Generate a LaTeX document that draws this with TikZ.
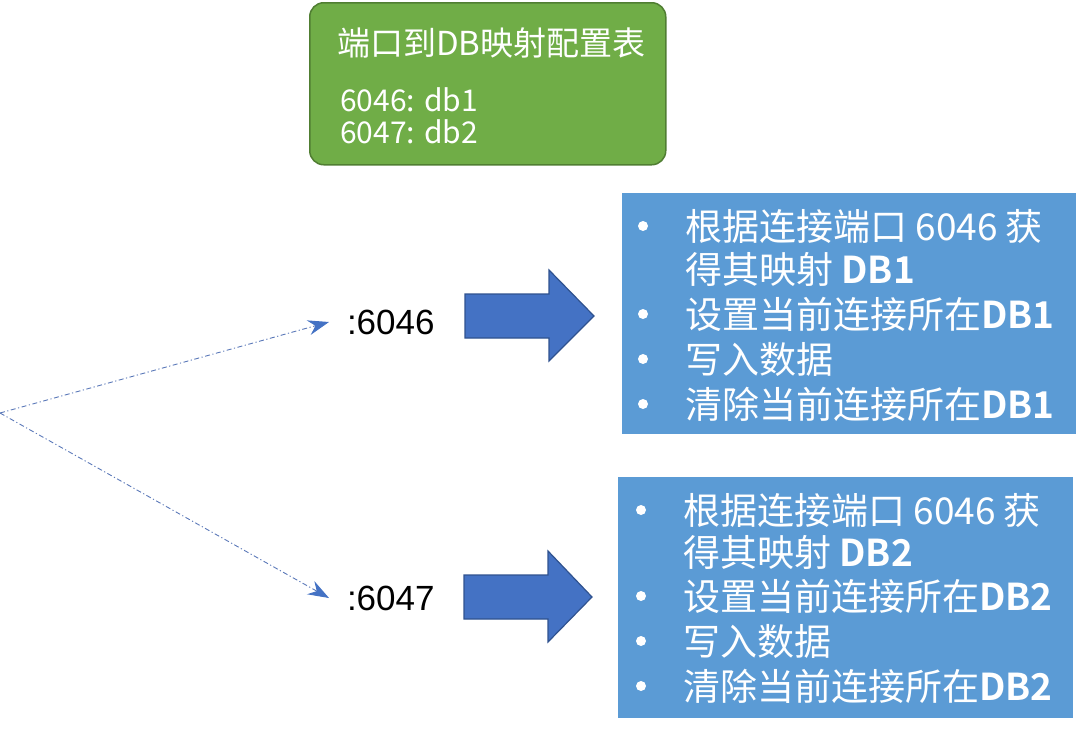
\documentclass[tikz,border=0pt]{standalone}
\usepackage{fontspec}
\setmainfont{Liberation Sans}
\newfontfamily\cjk{Noto Sans CJK SC}[BoldFont={Noto Sans CJK SC Bold}]
\usetikzlibrary{arrows.meta}
\definecolor{greenfill}{HTML}{70AD47}
\definecolor{greenline}{HTML}{507E32}
\definecolor{bluebox}{HTML}{5B9BD5}
\definecolor{arrowfill}{HTML}{4472C4}
\definecolor{arrowline}{HTML}{2F528F}
\definecolor{dashcol}{HTML}{5A78B8}
\tikzset{
  tablebox/.style={draw=greenline, line width=1.5pt, fill=greenfill, rounded corners=14pt, inner sep=0pt},
  infobox/.style={fill=bluebox, inner sep=0pt},
  bigarrow/.style={draw=arrowline, line width=1.2pt, fill=arrowfill, line join=miter},
  wtext/.style={text=white, inner sep=0pt, anchor=base west},
  btext/.style={wtext, font=\cjk\fontsize{37}{44}\selectfont},
  bullet/.style={circle, fill=white, inner sep=0pt, minimum size=10pt},
  gtext/.style={wtext, font=\cjk\fontsize{30}{34}\selectfont},
  port/.style={inner sep=0pt, outer sep=18pt, anchor=west, font=\fontsize{35}{40}\selectfont},
  flow/.style={draw=dashcol, line width=0.9pt, dash pattern=on 5pt off 2.5pt on 1.2pt off 2.5pt,
    -{Stealth[length=21pt, width=15pt, inset=7pt, fill=arrowfill, color=arrowfill]}}
}
\begin{document}
\begin{tikzpicture}[x=1pt, y=-1pt]
\useasboundingbox (0,0) rectangle (1078,731);

% config table
\node[tablebox, anchor=north west, minimum width=356pt, minimum height=162pt] (cfg) at (309,2) {};
\node[wtext, font=\cjk\fontsize{33}{36}\selectfont] (cfgtitle) at (337,55) {端口到DB映射配置表};
\node[gtext] (cfg1) at (340,111) {6046: db1};
\node[gtext] (cfg2) at (340,143) {6047: db2};

% blue info boxes
\node[infobox, anchor=north west, minimum width=454pt, minimum height=241pt] (box1) at (622,193) {};
\node[infobox, anchor=north west, minimum width=455pt, minimum height=241pt] (box2) at (618,477) {};

% box 1 lines
\node[bullet] (b1a) at (643,226) {};
\node[btext] (t1a) at (685,240) {根据连接端口 6046 获};
\node[btext] (t1b) at (685,283) {得其映射 \textbf{DB1}};
\node[bullet] (b1c) at (643,314) {};
\node[btext] (t1c) at (685,328) {设置当前连接所在\textbf{DB1}};
\node[bullet] (b1d) at (643,359) {};
\node[btext] (t1d) at (685,373) {写入数据};
\node[bullet] (b1e) at (643,404) {};
\node[btext] (t1e) at (685,418) {清除当前连接所在\textbf{DB1}};

% box 2 lines
\node[bullet] (b2a) at (641,510) {};
\node[btext] (t2a) at (683,524) {根据连接端口 6046 获};
\node[btext] (t2b) at (683,566) {得其映射 \textbf{DB2}};
\node[bullet] (b2c) at (641,596) {};
\node[btext] (t2c) at (683,610) {设置当前连接所在\textbf{DB2}};
\node[bullet] (b2d) at (641,641) {};
\node[btext] (t2d) at (683,655) {写入数据};
\node[bullet] (b2e) at (641,686) {};
\node[btext] (t2e) at (683,700) {清除当前连接所在\textbf{DB2}};

% big block arrows
\draw[bigarrow] (465,294) -- (549,294) -- (549,270) -- (594,316) -- (549,361) -- (549,338) -- (465,338) -- cycle;
\coordinate (arr1) at (530,316);
\draw[bigarrow] (464,575) -- (548,575) -- (548,551) -- (592,597) -- (548,642) -- (548,619) -- (464,619) -- cycle;
\coordinate (arr2) at (528,597);

% ports
\node[port] (p1) at (329,322) {:6046};
\node[port] (p2) at (329,598) {:6047};

% dashed connectors
\coordinate (src) at (0,413);
\draw[flow] (src) -- (p1.west);
\draw[flow] (src) -- (p2.west);
\end{tikzpicture}
\end{document}
